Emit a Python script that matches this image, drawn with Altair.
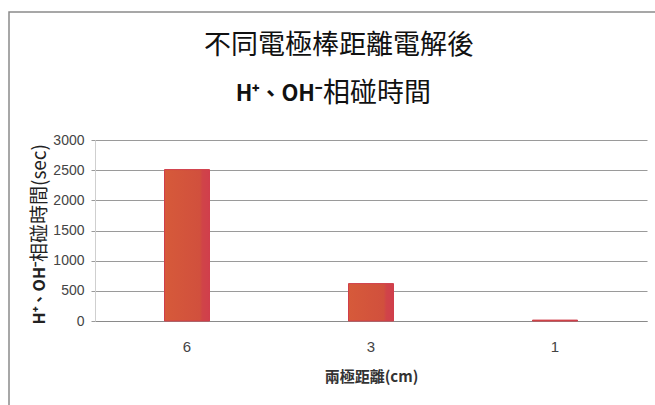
import altair as alt
import pandas as pd

# ---- data ----
distances = ["6", "3", "1"]
times = [2510, 620, 15]
y_ticks = [0, 500, 1000, 1500, 2000, 2500, 3000]

title_line1 = "不同電極棒距離電解後"
title_line2_bold = "H⁺、OH⁻"
title_line2_rest = "相碰時間"
ytitle_bold = "H⁺、OH⁻"
ytitle_rest = "相碰時間(sec)"
xtitle = "兩極距離(cm)"

df = pd.DataFrame({"distance": distances, "time": times})

CJK = "Noto Sans CJK TC"
NUM = "Liberation Sans"

bar_fill = alt.Gradient(
    gradient="linear",
    x1=0, x2=1, y1=0, y2=0,
    stops=[
        alt.GradientStop(color="#D65A3A", offset=0),
        alt.GradientStop(color="#D1503D", offset=0.78),
        alt.GradientStop(color="#D04448", offset=0.84),
        alt.GradientStop(color="#D03E4C", offset=1),
    ],
)

bars = alt.Chart(df).mark_bar(size=45, color=bar_fill, stroke="#D03E4A", strokeWidth=1).encode(
    x=alt.X(
        "distance:N",
        sort=distances,
        scale=alt.Scale(paddingInner=0, paddingOuter=0),
        axis=alt.Axis(
            title=xtitle, labelAngle=0, ticks=False, domain=True,
            domainColor="#8A8A8A", domainWidth=1,
            labelFont=NUM, labelFontSize=15, labelColor="#444444", labelPadding=18,
            titleFont=CJK, titleFontSize=15, titleFontWeight="bold", titleColor="#333333",
            titlePadding=15,
        ),
    ),
    y=alt.Y(
        "time:Q",
        scale=alt.Scale(domain=[0, 3000], nice=False),
        axis=alt.Axis(
            title=None, values=y_ticks, format="d", grid=True, gridColor="#9A9A9A", gridWidth=1,
            domain=True, domainColor="#CFCFCF", ticks=True, tickSize=4, tickColor="#9A9A9A",
            labelFont=NUM, labelFontSize=14, labelColor="#444444", labelPadding=7,
        ),
    ),
)

def txt(s, x, y, size, weight="normal", align="center", angle=0, color="#111111"):
    kw = dict(font=CJK, fontSize=size, fontWeight=weight, align=align,
              baseline="middle", color=color)
    if angle:
        kw["angle"] = angle
    return alt.Chart(pd.DataFrame({"t": [s]})).mark_text(**kw).encode(
        text="t:N", x=alt.value(x), y=alt.value(y)
    )

# title (positions relative to plot origin at 95,140)
t1 = txt(title_line1, 244, -94, 27)
t2a = txt(title_line2_bold, 227, -46, 22, weight="bold", align="right")
t2b = txt(title_line2_rest, 228, -46, 27, align="left")

# y axis title (rotated)
ya = txt(ytitle_bold, -55, 122, 16, weight="bold", align="right", angle=270, color="#222222")
yb = txt(ytitle_rest, -55, 122, 19, align="left", angle=270, color="#222222")

frame = alt.Chart(pd.DataFrame({"a": [0]})).mark_rect(
    fill=None, stroke="#8A8A8A", strokeWidth=1.5
).encode(
    x=alt.value(-86), y=alt.value(-128), x2=alt.value(700), y2=alt.value(400)
)

chart = alt.layer(frame, bars, t1, t2a, t2b, ya, yb).properties(
    width=552,
    height=181,
    padding={"left": 95, "top": 140, "right": 8, "bottom": 84},
    autosize=alt.AutoSizeParams(type="none"),
    background="white",
).configure_view(stroke=None)

chart.save("out.html", embed_options={"renderer": "svg", "actions": False})
